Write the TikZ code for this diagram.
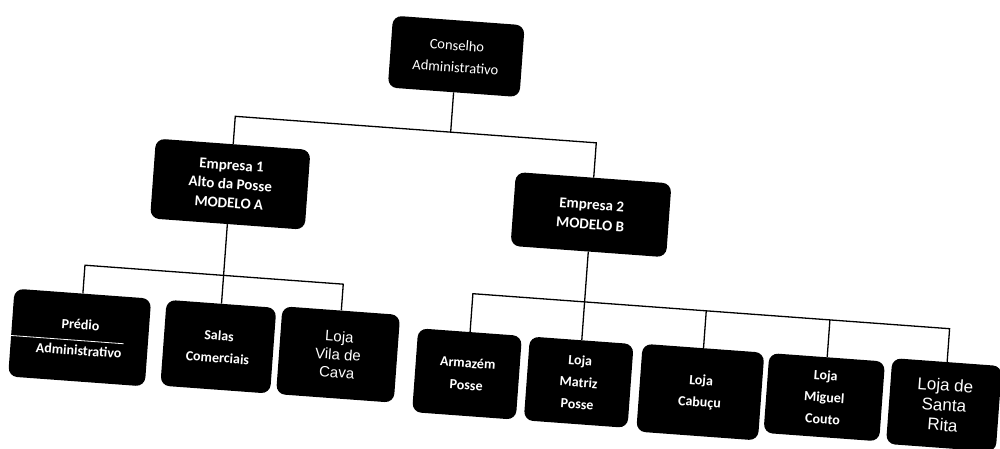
\documentclass[tikz,border=0pt]{standalone}
\usepackage{fontspec}
\setmainfont{Carlito}
\newfontfamily\arialf{Liberation Sans}
\begin{document}
\begin{tikzpicture}[x=1pt,y=1pt,
  box/.style={fill=black, text=white, rounded corners=9pt, align=center, inner sep=2pt,
              font=\bfseries\fontsize{14}{22}\selectfont},
  link/.style={line width=1.3pt, black}]
\useasboundingbox (0,0) rectangle (1000,-449);
\fill[white] (0,0) rectangle (1000,-449);
\begin{scope}[shift={(500,-225)}, rotate=-4.2, transform shape]
  % top level
  \node[box, minimum width=132, minimum height=72, font=\fontsize{14.5}{22}\selectfont] (cons) at (-56,165) {Conselho\\Administrativo};
  % second level
  \node[box, minimum width=155, minimum height=80, font=\bfseries\fontsize{15}{19}\selectfont] (e1) at (-272,21) {Empresa 1\\Alto da Posse\\MODELO A};
  \node[box, minimum width=156, minimum height=74, font=\bfseries\fontsize{15}{20}\selectfont] (e2) at (90,17) {Empresa 2\\MODELO B};
  % third level, Empresa 1
  \node[box, minimum width=137, minimum height=88, font=\bfseries\fontsize{14}{26}\selectfont] (predio) at (-411,-143) {Prédio\\Administrativo};
  \node[box, minimum width=110, minimum height=86] (salas) at (-272,-142) {Salas\\Comerciais};
  \node[box, minimum width=118, minimum height=88, font=\arialf\fontsize{15}{18}\selectfont] (vila) at (-152,-141) {Loja\\Vila de\\Cava};
  % third level, Empresa 2
  \node[box, minimum width=104, minimum height=84] (armazem) at (-22,-151) {Armazém\\Posse};
  \node[box, minimum width=104, minimum height=84] (matriz) at (90,-151) {Loja\\Matriz\\Posse};
  \node[box, minimum width=122, minimum height=88] (cabucu) at (212,-152) {Loja\\Cabuçu};
  \node[box, minimum width=116, minimum height=80] (miguel) at (336,-148) {Loja\\Miguel\\Couto};
  \node[box, minimum width=110, minimum height=86, font=\arialf\fontsize{17}{20}\selectfont] (rita) at (456,-147) {Loja de\\Santa\\Rita};
  % white stroke in Predio box
  \draw[white, line width=0.8pt] (predio.west) ++(0,-3) -- ++(113,0);
  % bar coordinates
  \coordinate (tb) at (0,89);
  \coordinate (b1) at (0,-70.5);
  \coordinate (b2) at (0,-70.5);
  % connectors
  \draw[link] (cons.south) -- (cons.south |- tb);
  \draw[link] (e1.north) -- (e1.north |- tb) -- (e2.north |- tb) -- (e2.north);
  \draw[link] (e1.south) -- (salas.north);
  \draw[link] (predio.north) -- (predio.north |- b1) -- (vila.north |- b1) -- (vila.north);
  \draw[link] (e2.south) -- (matriz.north);
  \draw[link] (armazem.north) -- (armazem.north |- b2) -- (rita.north |- b2) -- (rita.north);
  \draw[link] (cabucu.north) -- (cabucu.north |- b2);
  \draw[link] (miguel.north) -- (miguel.north |- b2);
\end{scope}
\end{tikzpicture}
\end{document}
